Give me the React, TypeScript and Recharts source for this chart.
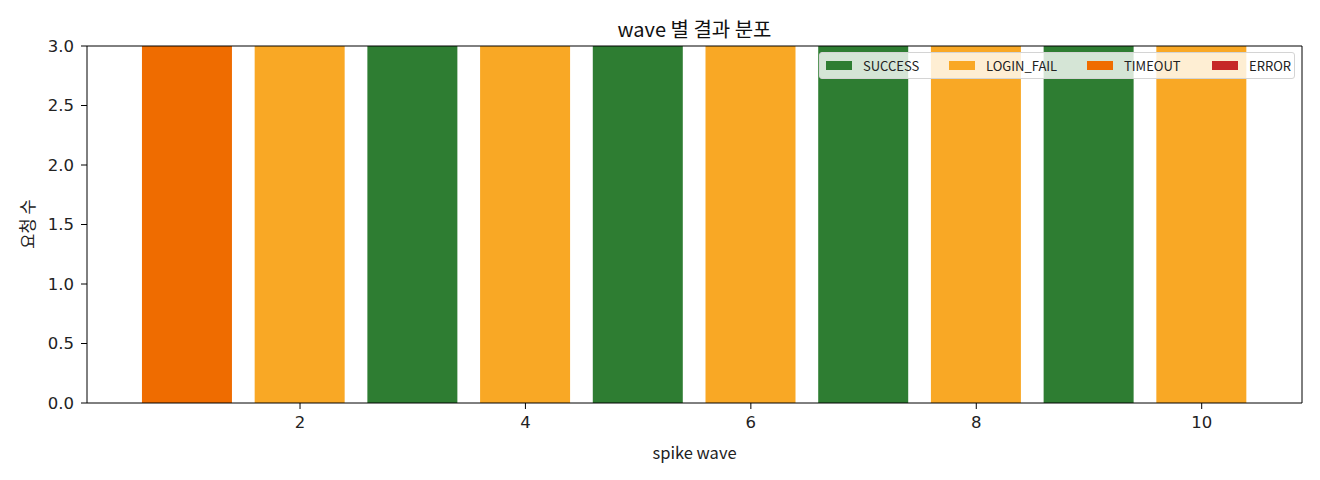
import React from "react";
import {
  BarChart,
  Bar,
  XAxis,
  YAxis,
  Legend,
} from "recharts";

const waves = [1, 2, 3, 4, 5, 6, 7, 8, 9, 10];
const success = [0, 0, 3, 0, 3, 0, 3, 0, 3, 0];
const loginFail = [0, 3, 0, 3, 0, 3, 0, 3, 0, 3];
const timeout = [3, 0, 0, 0, 0, 0, 0, 0, 0, 0];
const errors = [0, 0, 0, 0, 0, 0, 0, 0, 0, 0];
const xTicks = [2, 4, 6, 8, 10];
const yTicks = [0, 0.5, 1, 1.5, 2, 2.5, 3];

const series = [
  { key: "SUCCESS", color: "#2e7d32" },
  { key: "LOGIN_FAIL", color: "#f9a825" },
  { key: "TIMEOUT", color: "#ef6c00" },
  { key: "ERROR", color: "#c62828" },
];

const data = waves.map((w, i) => ({
  wave: w,
  SUCCESS: success[i],
  LOGIN_FAIL: loginFail[i],
  TIMEOUT: timeout[i],
  ERROR: errors[i],
}));

const FONT = "'Noto Sans CJK KR', 'DejaVu Sans', sans-serif";
const TICK_FONT = "'DejaVu Sans', sans-serif";
const tickStyle = { fill: "#222", fontSize: 16.5, fontFamily: TICK_FONT };

function LegendBox() {
  const lefts = [6, 129, 267, 392];
  return (
    <div
      style={{
        position: "relative",
        width: 476,
        height: 27,
        boxSizing: "border-box",
        background: "rgba(255,255,255,0.8)",
        border: "1px solid #d4d4d4",
        borderRadius: 3,
        fontFamily: FONT,
        fontSize: 13,
        color: "#222",
      }}
    >
      {series.map((s, i) => (
        <div
          key={s.key}
          style={{
            position: "absolute",
            left: lefts[i],
            top: 0,
            height: 25,
            display: "flex",
            alignItems: "center",
          }}
        >
          <span style={{ width: 26, height: 9, background: s.color, display: "inline-block" }} />
          <span style={{ marginLeft: 11 }}>{s.key}</span>
        </div>
      ))}
    </div>
  );
}

export default function App() {
  return (
    <div style={{ position: "absolute", left: 0, top: 0, width: 1320, height: 480, background: "#fff" }}>
      <div
        style={{
          position: "absolute",
          left: 0,
          width: 1389,
          top: 15,
          textAlign: "center",
          fontFamily: FONT,
          fontSize: 20,
          lineHeight: "28px",
          color: "#111",
        }}
      >
        wave 별 결과 분포
      </div>
      <div
        style={{
          position: "absolute",
          left: 0,
          width: 1389,
          top: 440,
          textAlign: "center",
          fontFamily: FONT,
          fontSize: 16.5,
          lineHeight: "24px",
          color: "#222",
        }}
      >
        spike wave
      </div>
      <div
        style={{
          position: "absolute",
          left: 27,
          top: 224,
          transform: "translate(-50%, -50%) rotate(-90deg)",
          fontFamily: FONT,
          fontSize: 16.5,
          lineHeight: "24px",
          color: "#222",
          whiteSpace: "nowrap",
        }}
      >
        요청 수
      </div>
      <BarChart
        width={1320}
        height={480}
        data={data}
        margin={{ top: 45, right: 17, bottom: 10, left: 0 }}
        barSize={90}
      >
        <XAxis
          dataKey="wave"
          type="number"
          domain={[0.11, 10.89]}
          ticks={xTicks}
          allowDataOverflow
          tick={tickStyle}
          tickSize={6}
          tickMargin={7}
          tickLine={{ stroke: "#000" }}
          axisLine={{ stroke: "#000" }}
          height={40}
        />
        <XAxis
          xAxisId="top"
          orientation="top"
          dataKey="wave"
          type="number"
          domain={[0.11, 10.89]}
          tick={false}
          tickLine={false}
          axisLine={{ stroke: "#000" }}
          height={1}
        />
        <YAxis
          type="number"
          domain={[0, 3]}
          ticks={yTicks}
          allowDataOverflow
          tickFormatter={(v: number) => v.toFixed(1)}
          tick={tickStyle}
          tickSize={6}
          tickMargin={7}
          tickLine={{ stroke: "#000" }}
          axisLine={{ stroke: "#000" }}
          width={87}
        />
        <YAxis
          yAxisId="right"
          orientation="right"
          domain={[0, 3]}
          tick={false}
          tickLine={false}
          axisLine={{ stroke: "#000" }}
          width={1}
        />
        <Legend
          content={() => <LegendBox />}
          wrapperStyle={{ position: "absolute", left: 819, top: 52, width: 476, height: 27 }}
        />
        {series.map((s) => (
          <Bar
            key={s.key}
            dataKey={s.key}
            stackId="a"
            fill={s.color}
            isAnimationActive={false}
          />
        ))}
      </BarChart>
    </div>
  );
}
